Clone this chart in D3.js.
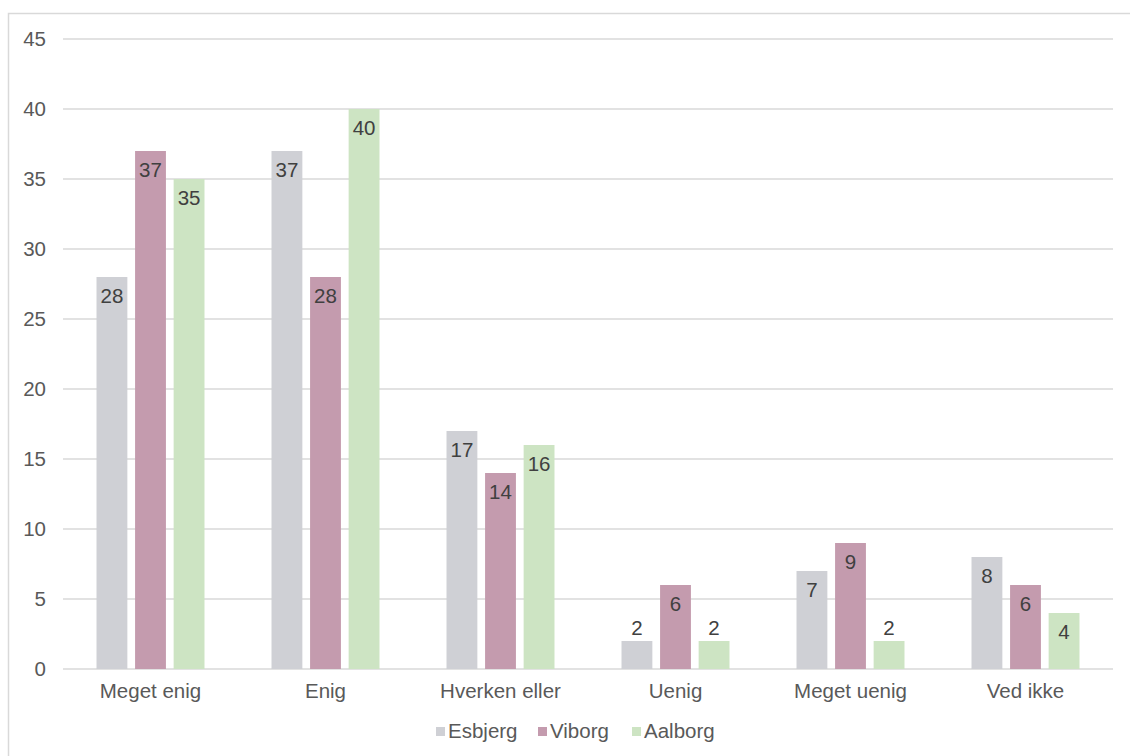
<!DOCTYPE html>
<html>
<head>
<meta charset="utf-8">
<script src="https://cdn.jsdelivr.net/npm/d3@7"></script>
<style>
  body { margin: 0; background: #fff; }
  text { font-family: "Liberation Sans", Arial, Helvetica, sans-serif; }
</style>
</head>
<body>
<div id="chart"></div>
<script>
var categories = ["Meget enig", "Enig", "Hverken eller", "Uenig", "Meget uenig", "Ved ikke"];
var seriesNames = ["Esbjerg", "Viborg", "Aalborg"];
var esbjerg = [28, 37, 17, 2, 7, 8];
var viborg = [37, 28, 14, 6, 9, 6];
var aalborg = [35, 40, 16, 2, 2, 4];
var yTicks = [0, 5, 10, 15, 20, 25, 30, 35, 40, 45];

var seriesValues = [esbjerg, viborg, aalborg];
var colors = ["#cfd0d5", "#c49bae", "#cde4c3"];

var width = 1130, height = 756;
var margin = { left: 63, right: 17, top: 39, bottom: 87 };
var fontSize = "20.5px";

var svg = d3.select("#chart").append("svg")
    .attr("width", width)
    .attr("height", height);

// outer frame (only top and left are visible in the reference)
svg.append("rect")
    .attr("x", 8.5).attr("y", 13.5)
    .attr("width", width + 10).attr("height", height + 10)
    .style("fill", "none")
    .style("stroke", "#d9d9d9")
    .style("stroke-width", 1.5);

var x0 = d3.scaleBand()
    .domain(categories)
    .range([margin.left, width - margin.right])
    .paddingInner(0.383)
    .paddingOuter(0.1915);

var x1 = d3.scaleBand()
    .domain(seriesNames)
    .range([0, x0.bandwidth()])
    .paddingInner(0.2);

var y = d3.scaleLinear()
    .domain([0, 45])
    .range([height - margin.bottom, margin.top]);

// gridlines
svg.append("g")
    .selectAll("line")
    .data(yTicks)
    .enter()
    .append("line")
    .attr("x1", margin.left)
    .attr("x2", width - margin.right)
    .attr("y1", function (d) { return y(d); })
    .attr("y2", function (d) { return y(d); })
    .style("stroke", "#d9d9d9")
    .style("stroke-width", 1.5);

// y tick labels
svg.append("g")
    .selectAll("text")
    .data(yTicks)
    .enter()
    .append("text")
    .attr("x", 46)
    .attr("y", function (d) { return y(d); })
    .attr("dy", "0.35em")
    .attr("text-anchor", "end")
    .style("font-size", fontSize)
    .style("fill", "#595959")
    .text(function (d) { return d; });

// category labels
svg.append("g")
    .selectAll("text")
    .data(categories)
    .enter()
    .append("text")
    .attr("x", function (d) { return x0(d) + x0.bandwidth() / 2; })
    .attr("y", y(0) + 29)
    .attr("text-anchor", "middle")
    .style("font-size", fontSize)
    .style("fill", "#595959")
    .text(function (d) { return d; });

var rows = [];
categories.forEach(function (c, i) {
    seriesNames.forEach(function (s, j) {
        rows.push({ cat: c, series: s, value: seriesValues[j][i], color: colors[j] });
    });
});

// bars
svg.append("g")
    .selectAll("rect")
    .data(rows)
    .enter()
    .append("rect")
    .attr("x", function (d) { return x0(d.cat) + x1(d.series); })
    .attr("y", function (d) { return y(d.value); })
    .attr("width", x1.bandwidth())
    .attr("height", function (d) { return y(0) - y(d.value); })
    .style("fill", function (d) { return d.color; });

// value labels
svg.append("g")
    .selectAll("text")
    .data(rows)
    .enter()
    .append("text")
    .attr("x", function (d) { return x0(d.cat) + x1(d.series) + x1.bandwidth() / 2; })
    .attr("y", function (d) {
        var h = y(0) - y(d.value);
        return h < 35 ? y(d.value) - 6 : y(d.value) + 26;
    })
    .attr("text-anchor", "middle")
    .style("font-size", fontSize)
    .style("fill", "#404040")
    .text(function (d) { return d.value; });

// legend
var legendX = [436, 538, 632];
var legend = svg.append("g")
    .selectAll("g")
    .data(seriesNames)
    .enter()
    .append("g")
    .attr("transform", function (d, i) { return "translate(" + legendX[i] + ",731)"; });

legend.append("rect")
    .attr("x", 0).attr("y", -4)
    .attr("width", 9).attr("height", 9)
    .style("fill", function (d, i) { return colors[i]; });

legend.append("text")
    .attr("x", 12)
    .attr("dy", "0.35em")
    .style("font-size", fontSize)
    .style("fill", "#595959")
    .text(function (d) { return d; });
</script>
</body>
</html>
